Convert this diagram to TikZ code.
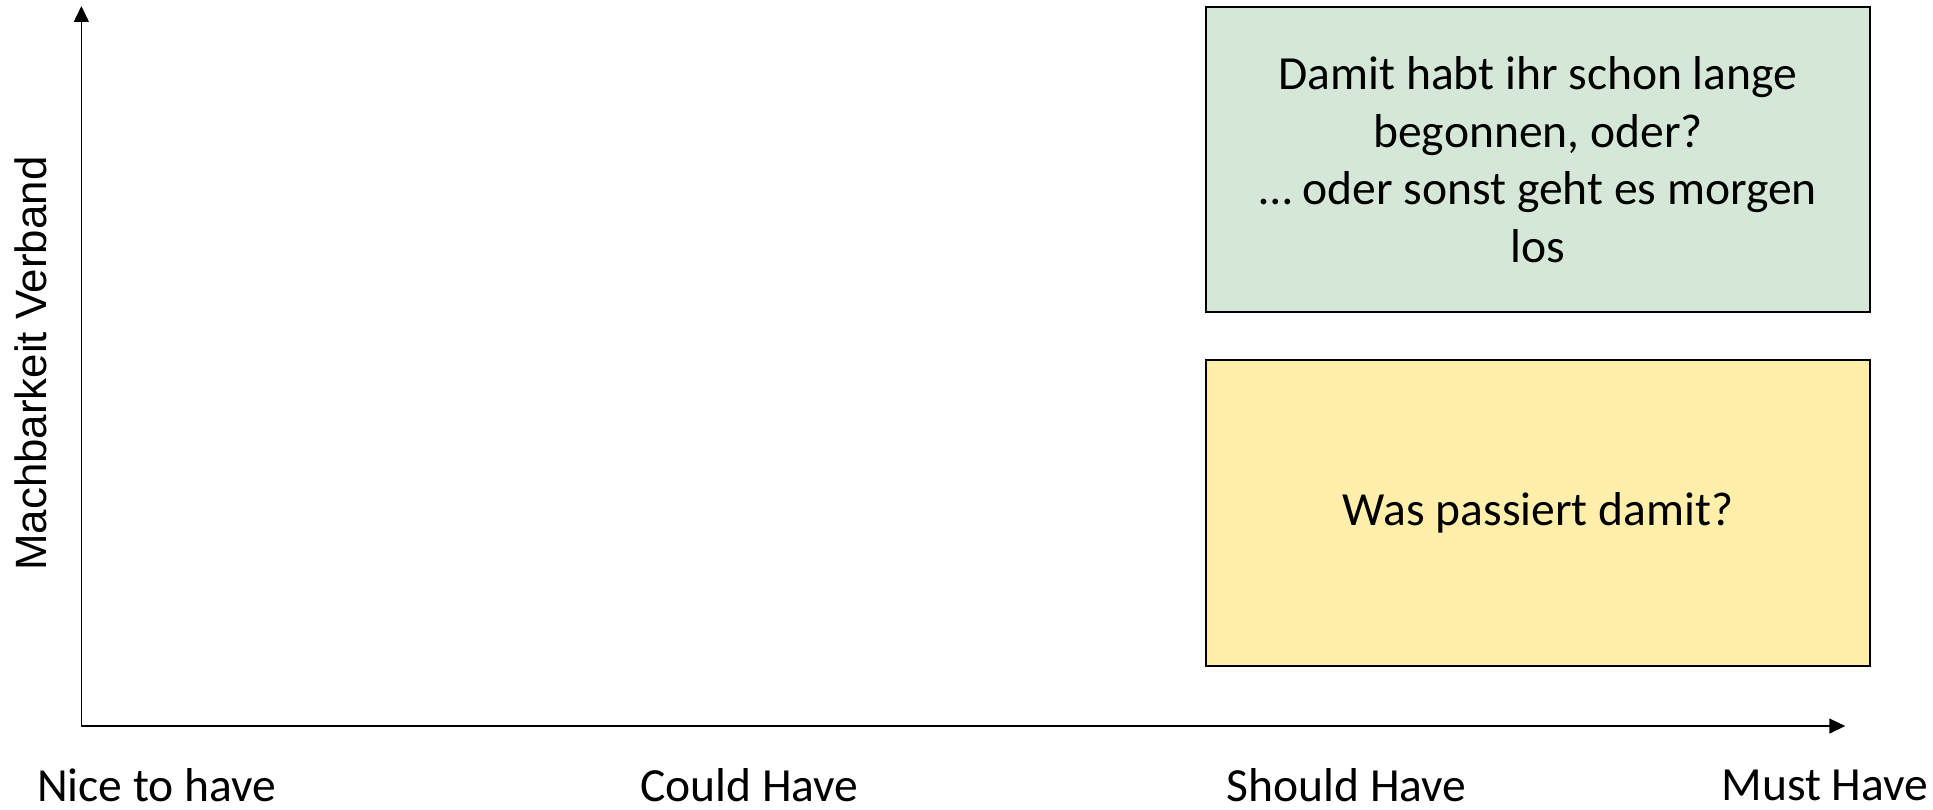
\documentclass[tikz,border=0pt]{standalone}
\usepackage{fontspec}
\setmainfont{Carlito}
\newfontfamily\arialfont{Liberation Sans}
\usetikzlibrary{arrows.meta,shapes}

\definecolor{gruen}{RGB}{213,232,216}
\definecolor{gelb}{RGB}{255,239,170}

\tikzset{
	achse/.style={line width=0.45pt, -{Triangle[width=4.4pt,length=4.7pt]}},
	feld/.style={draw, line width=0.6pt, minimum width=6.87cm, align=center, font=\fontsize{14}{17}\selectfont},
	stufe/.style={font=\fontsize{14}{17}\selectfont}
}

\begin{document}
\begin{tikzpicture}
	\useasboundingbox (-0.842,-0.859) rectangle (19.158,7.512);
	\coordinate (O) at (0,0);
	\coordinate (Y) at (0,7.45);
	\coordinate (X) at (18.25,0);
	\draw[achse] (O) to (Y);
	\draw[achse] (O) to (X);
	\node[feld, fill=gruen, minimum height=3.152cm] (gruenfeld) at (15.071,5.859) {Damit habt ihr schon lange\\begonnen, oder?\\… oder sonst geht es morgen\\los};
	\node[feld, fill=gelb, minimum height=3.166cm] (gelbfeld) at (15.071,2.204) {Was passiert damit?};
	\node[stufe] (nice) at (0.78,-0.61) {Nice to have};
	\node[stufe] (could) at (6.91,-0.61) {Could Have};
	\node[stufe] (should) at (13.09,-0.61) {Should Have};
	\node[stufe] (must) at (18.04,-0.61) {Must Have};
	\node[rotate=90, font=\arialfont\fontsize{12.9}{15}\selectfont] (machbar) at (-0.523,3.75) {Machbarkeit Verband};
\end{tikzpicture}
\end{document}
